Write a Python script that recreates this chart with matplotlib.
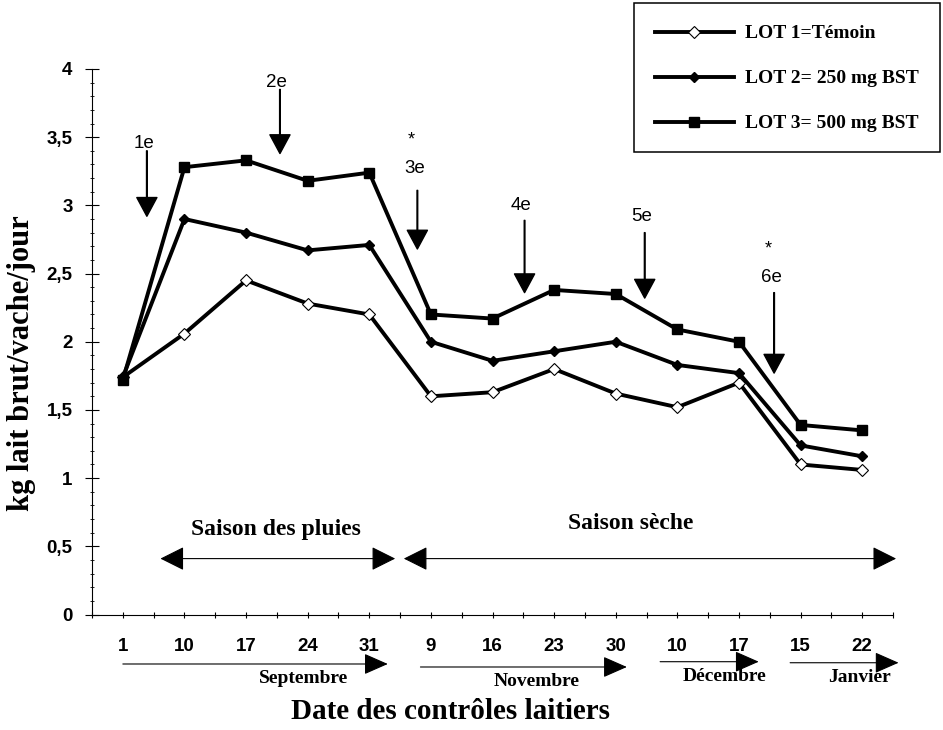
import numpy as np
import matplotlib
matplotlib.use('Agg')
import matplotlib.pyplot as plt
import matplotlib.transforms as mtransforms
from matplotlib.patches import Rectangle
from matplotlib.ticker import MultipleLocator

plt.rcParams['font.family'] = ['Liberation Sans', 'DejaVu Sans']
SERIF = ['Liberation Serif', 'DejaVu Serif']

# dates of the milk controls
categories = ['1', '10', '17', '24', '31', '9', '16', '23', '30', '10', '17', '15', '22']

# kg lait brut/vache/jour
lot1 = [1.74, 2.06, 2.45, 2.28, 2.20, 1.60, 1.63, 1.80, 1.62, 1.52, 1.70, 1.10, 1.06]
lot2 = [1.74, 2.90, 2.80, 2.67, 2.71, 2.00, 1.86, 1.93, 2.00, 1.83, 1.77, 1.24, 1.16]
lot3 = [1.72, 3.28, 3.33, 3.18, 3.24, 2.20, 2.17, 2.38, 2.35, 2.09, 2.00, 1.39, 1.35]
series_labels = ['LOT 1=Témoin', 'LOT 2= 250 mg BST', 'LOT 3= 500 mg BST']

y_ticks = [0, 0.5, 1, 1.5, 2, 2.5, 3, 3.5, 4]
y_tick_labels = ['0', '0,5', '1', '1,5', '2', '2,5', '3', '3,5', '4']

# injections (arrows above the curves)
inj_labels = ['1e', '2e', '3e', '4e', '5e', '6e']
inj_x = [0.39, 2.55, 4.78, 6.52, 8.47, 10.57]
inj_text_y = [3.45, 3.90, 3.27, 3.00, 2.92, 2.47]
inj_top_y = [3.40, 3.85, 3.11, 2.89, 2.80, 2.36]
inj_tip_y = [2.92, 3.38, 2.68, 2.36, 2.32, 1.77]
inj_star = [False, False, True, False, False, True]

# seasons
season_labels = ['Saison des pluies', 'Saison sèche']
season_start = [0.61, 4.56]
season_end = [4.42, 12.55]
season_text_x = [2.49, 8.24]
season_text_y = [0.62, 0.67]

# months under the axis
month_labels = ['Septembre', 'Novembre', 'Décembre', 'Janvier']
month_start = [0.0, 4.83, 8.72, 10.83]
month_end = [4.30, 8.18, 10.32, 12.59]
month_text_x = [2.93, 6.72, 9.77, 11.96]

fig = plt.figure(figsize=(9.43, 7.30), dpi=100)
ax = fig.add_axes([0.0976, 0.1582, 0.8494, 0.7473])

x = np.arange(len(categories))
l1, = ax.plot(x, lot1, color='black', lw=2.8, marker='D', ms=6,
              mfc='white', mec='black', mew=0.8, zorder=3)
l2, = ax.plot(x, lot2, color='black', lw=2.8, marker='D', ms=5,
              mfc='black', mec='black', zorder=3)
l3, = ax.plot(x, lot3, color='black', lw=2.8, marker='s', ms=7.5,
              mfc='black', mec='black', zorder=3)

ax.set_xlim(-0.5, 12.5)
ax.set_ylim(0, 4)
ax.spines['top'].set_visible(False)
ax.spines['right'].set_visible(False)
ax.spines['left'].set_linewidth(0.8)
ax.spines['bottom'].set_linewidth(0.8)

ax.set_xticks(x)
ax.set_xticklabels(categories, fontsize=13.5, fontweight='bold')
ax.set_xticks(np.arange(-0.5, 13, 1), minor=True)
ax.tick_params(axis='x', which='both', direction='inout', length=5, width=0.8, pad=14.5)

ax.set_yticks(y_ticks)
ax.set_yticklabels(y_tick_labels, fontsize=13.5, fontweight='bold')
ax.yaxis.set_minor_locator(MultipleLocator(0.1))
ax.tick_params(axis='y', which='major', direction='inout', length=10, width=0.8, pad=9)
ax.tick_params(axis='y', which='minor', direction='inout', length=3.4, width=0.6)

# injection arrows
for lab, xi, ty, top, tip, star in zip(inj_labels, inj_x, inj_text_y, inj_top_y, inj_tip_y, inj_star):
    ax.text(xi - 0.05, ty, lab, fontsize=13.5, ha='center', va='center')
    if star:
        ax.text(xi - 0.1, ty + 0.21, '*', fontsize=13, ha='center', va='center')
    ax.annotate('', xy=(xi, tip), xytext=(xi, top),
                arrowprops=dict(width=0.5, headwidth=14.5, headlength=13.5,
                                facecolor='black', edgecolor='black', shrink=0))

# season arrows
for lab, x0, x1, tx, ty in zip(season_labels, season_start, season_end, season_text_x, season_text_y):
    ax.annotate('', xy=(x1, 0.41), xytext=(x0, 0.41), annotation_clip=False,
                arrowprops=dict(arrowstyle='<|-|>,head_length=1.0,head_width=0.5',
                                mutation_scale=15, lw=0.8, color='black',
                                shrinkA=0, shrinkB=0))
    ax.text(tx, ty, lab, fontsize=17, fontweight='bold', family=SERIF,
            ha='center', va='center')

# month arrows below the axis
trans = mtransforms.blended_transform_factory(ax.transData, ax.transAxes)
month_y = [-0.0907, -0.0962, -0.0865, -0.0884]
for lab, x0, x1, tx, my in zip(month_labels, month_start, month_end, month_text_x, month_y):
    ax.annotate('', xy=(x1, my), xytext=(x0, my), xycoords=trans, textcoords=trans,
                annotation_clip=False,
                arrowprops=dict(arrowstyle='-|>,head_length=1.0,head_width=0.44',
                                mutation_scale=15, lw=0.8, color='black',
                                shrinkA=0, shrinkB=0))
    ax.text(tx, my - 0.027, lab, transform=trans, fontsize=14, fontweight='bold',
            family=SERIF, ha='center', va='center')

fig.text(0.478, 0.025, 'Date des contrôles laitiers', fontsize=21, fontweight='bold',
         family=SERIF, ha='center', va='center')
fig.text(0.023, 0.503, 'kg lait brut/vache/jour', fontsize=22, fontweight='bold',
         family=SERIF, ha='center', va='center', rotation=90)

# legend with its own frame
fig.patches.append(Rectangle((0.6723, 0.7918), 0.3245, 0.2041, transform=fig.transFigure,
                             fill=False, edgecolor='black', lw=1.1))
fig.legend([l1, l2, l3], series_labels, loc='upper left',
           bbox_to_anchor=(645 / 943, 1 - 15 / 730), frameon=False, borderpad=0,
           handlelength=4.06, handletextpad=0.6, labelspacing=1.41, numpoints=1,
           prop={'family': SERIF, 'weight': 'bold', 'size': 14})

plt.savefig('out.png', dpi=100, facecolor='white')
plt.close()
